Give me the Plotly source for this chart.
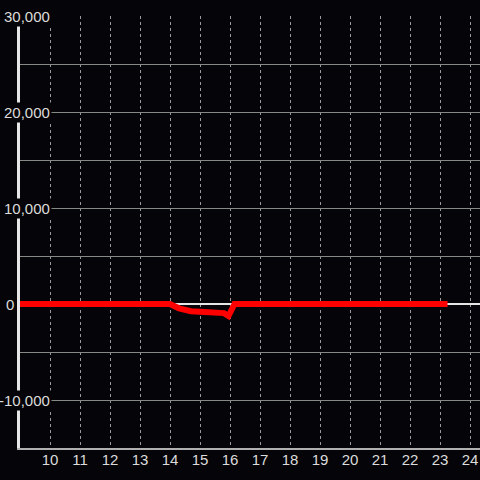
import plotly.graph_objects as go

# Data
hours = [9, 10, 11, 12, 13, 14.0, 14.3, 14.7, 15, 15.6, 15.8, 15.95, 16.15, 17, 18, 19, 20, 21, 22, 23, 23.25]
values = [0, 0, 0, 0, 0, 0, -450, -750, -800, -870, -950, -1250, 0, 0, 0, 0, 0, 0, 0, 0, 0]
x_ticks = list(range(10, 25))
y_label_vals = [30000, 20000, 10000, 0, -10000]
y_label_text = ["30,000", "20,000", "10,000", "0", "-10,000"]

BG = "#050408"
FONT = "Liberation Sans, Arial, sans-serif"

fig = go.Figure()
fig.add_trace(go.Scatter(
    x=hours, y=values, mode="lines",
    line=dict(color="#ff0000", width=6),
    hoverinfo="skip", showlegend=False, cliponaxis=False,
))

fig.update_layout(
    width=480, height=480,
    paper_bgcolor=BG, plot_bgcolor=BG,
    margin=dict(l=20, r=0, t=16, b=32),
    font=dict(family=FONT, size=15, color="#dcdcdc"),
    showlegend=False,
    xaxis=dict(
        range=[9, 24.333], tickmode="array", tickvals=x_ticks,
        ticktext=[str(v) for v in x_ticks],
        showgrid=True, gridcolor="#9a9a9a", gridwidth=1, griddash="dot",
        showline=True, linecolor="#b0b0b0", linewidth=2,
        zeroline=False, ticks="", fixedrange=True,
        tickfont=dict(family=FONT, size=15, color="#dcdcdc"),
        ticklabelstandoff=-3,
        layer="below traces",
    ),
    yaxis=dict(
        range=[-15000, 30000], tickmode="linear", tick0=0, dtick=5000,
        showticklabels=False,
        showgrid=True, gridcolor="#858a85", gridwidth=1,
        showline=True, linecolor="#e6e6e6", linewidth=3,
        zeroline=True, zerolinecolor="#e6e6e6", zerolinewidth=2,
        ticks="", fixedrange=True, layer="below traces",
    ),
)

for v, t in zip(y_label_vals, y_label_text):
    right_px = 16 if v == 0 else 52
    fig.add_annotation(
        xref="paper", yref="y", x=0, y=v, xshift=right_px - 20,
        xanchor="right", yanchor="middle", text=t, showarrow=False,
        bgcolor=BG if v != 0 else "rgba(0,0,0,0)", borderpad=1,
        font=dict(family=FONT, size=15, color="#dcdcdc"),
    )

fig.write_html(
    "out.html",
    config={"displayModeBar": False},
    post_script="document.body.style.margin='0';document.body.style.background='%s';" % BG,
)
